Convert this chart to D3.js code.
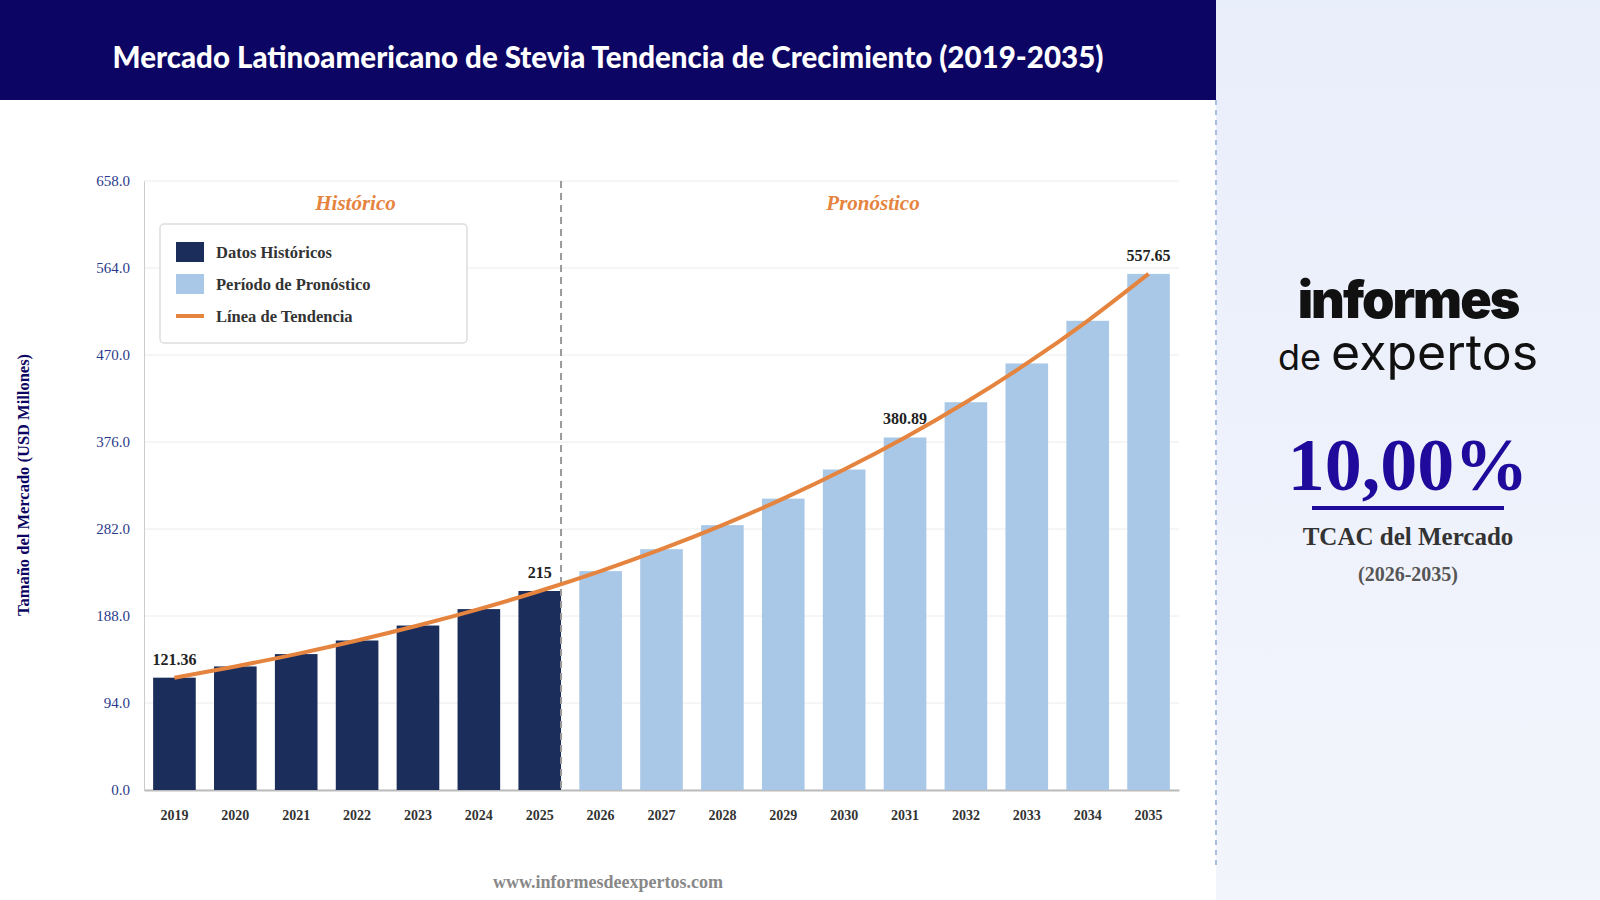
<!DOCTYPE html>
<html><head><meta charset="utf-8">
<script src="https://cdn.jsdelivr.net/npm/d3@7"></script>
<style>
body{margin:0;width:1600px;height:900px;overflow:hidden;background:#fff;font-family:"Liberation Serif",serif;}
</style></head><body>
<script>
var years = ['2019','2020','2021','2022','2023','2024','2025','2026','2027','2028','2029','2030','2031','2032','2033','2034','2035'];
var values = [121.36,133.5,146.85,161.53,177.69,195.45,215,236.5,260.15,286.17,314.78,346.26,380.89,418.98,460.87,506.96,557.65];
var historicalYears = ['2019','2020','2021','2022','2023','2024','2025'];
var labeledYears = ['2019','2025','2031','2035'];
var yTicks = [0,94,188,282,376,470,564,658];

var svg = d3.select('body').append('svg').attr('width',1600).attr('height',900);

// right panel
var grad = svg.append('defs').append('linearGradient').attr('id','pg').attr('x1',0).attr('y1',0).attr('x2',0).attr('y2',1);
grad.append('stop').attr('offset',0).attr('stop-color','#e9eefb');
grad.append('stop').attr('offset',1).attr('stop-color','#f3f5fc');
svg.append('rect').attr('x',1216).attr('y',0).attr('width',384).attr('height',900).attr('fill','url(#pg)');
svg.append('line').attr('x1',1216).attr('x2',1216).attr('y1',100).attr('y2',870)
    .attr('stroke','#a9bde0').attr('stroke-width',2).attr('stroke-dasharray','5,5');

// header
svg.append('rect').attr('x',0).attr('y',0).attr('width',1216).attr('height',100).attr('fill','#0c0563');
svg.append('text').attr('x',608).attr('y',68).attr('text-anchor','middle').attr('fill','#fff')
    .attr('font-family','Lato, sans-serif').attr('font-weight',900).attr('font-size',29.5)
    .text('Mercado Latinoamericano de Stevia Tendencia de Crecimiento (2019-2035)');

var L = 144, R = 1179, T = 181, B = 790;
var x = d3.scaleBand().domain(years).range([L,R]).paddingInner(0.3).paddingOuter(0.15);
var y = d3.scaleLinear().domain([0,658]).range([B,T]);

svg.append('g').selectAll('line').data(yTicks).enter().append('line')
    .attr('x1',L).attr('x2',R).attr('y1',function(d){return y(d);}).attr('y2',function(d){return y(d);})
    .attr('stroke','#ececec');

var yAxis = svg.append('g').attr('transform','translate('+L+',0)')
    .call(d3.axisLeft(y).tickValues(yTicks).tickFormat(d3.format('.1f')).tickSize(0).tickPadding(14));
yAxis.select('.domain').attr('stroke','#ccc');
yAxis.selectAll('text').attr('fill','#2a3a8a').attr('font-size',15).attr('font-family','Liberation Serif, serif');

var xAxis = svg.append('g').attr('transform','translate(0,'+B+')')
    .call(d3.axisBottom(x).tickSize(0).tickPadding(20));
xAxis.select('.domain').attr('stroke','#bbb').attr('stroke-width',2);
xAxis.selectAll('text').attr('fill','#333').attr('font-size',14).attr('font-weight','bold').attr('font-family','Liberation Serif, serif');

svg.append('text').attr('transform','translate(29,485) rotate(-90)').attr('text-anchor','middle')
    .attr('fill','#0c0563').attr('font-weight','bold').attr('font-size',16.5).text('Tamaño del Mercado (USD Millones)');

svg.append('g').selectAll('rect').data(years).enter().append('rect')
    .attr('x',function(d){return x(d);}).attr('width',x.bandwidth())
    .attr('y',function(d,i){return y(values[i]);}).attr('height',function(d,i){return B-y(values[i]);})
    .attr('fill',function(d){return historicalYears.indexOf(d)>=0 ? '#1b2d5b' : '#a9c8e8';});

// divider
var divX = x('2025')+x.bandwidth();
svg.append('line').attr('x1',divX).attr('x2',divX).attr('y1',T).attr('y2',B)
    .attr('stroke','#999').attr('stroke-width',2).attr('stroke-dasharray','7,5');
svg.append('text').attr('x',(L+divX)/2+3).attr('y',210).attr('text-anchor','middle').attr('fill','#e5843e')
    .attr('font-style','italic').attr('font-weight','bold').attr('font-size',21).text('Histórico');
svg.append('text').attr('x',(divX+R)/2+3).attr('y',210).attr('text-anchor','middle').attr('fill','#e5843e')
    .attr('font-style','italic').attr('font-weight','bold').attr('font-size',21).text('Pronóstico');

var line = d3.line().x(function(d){return x(d)+x.bandwidth()/2;}).y(function(d,i){return y(values[i]);}).curve(d3.curveMonotoneX);
svg.append('path').datum(years).attr('d',line).attr('fill','none').attr('stroke','#e5843e').attr('stroke-width',4);

svg.append('g').selectAll('text').data(labeledYears).enter().append('text')
    .attr('x',function(d){return x(d)+x.bandwidth()/2;})
    .attr('y',function(d){return y(values[years.indexOf(d)])-13;})
    .attr('text-anchor','middle').attr('font-weight','bold').attr('font-size',16).attr('fill','#222')
    .text(function(d){return values[years.indexOf(d)];});

// legend
var lg = svg.append('g').attr('transform','translate(160,224)');
lg.append('rect').attr('width',307).attr('height',119).attr('rx',4).attr('fill','#fff').attr('stroke','#ddd').attr('stroke-width',1.5);
var legendItems = [['Datos Históricos','#1b2d5b','box'],['Período de Pronóstico','#a9c8e8','box'],['Línea de Tendencia','#e5843e','line']];
legendItems.forEach(function(it,i){
    var cy = 28 + i*32;
    if (it[2]=='box') lg.append('rect').attr('x',16).attr('y',cy-10).attr('width',28).attr('height',20).attr('fill',it[1]);
    else lg.append('line').attr('x1',16).attr('x2',44).attr('y1',cy).attr('y2',cy).attr('stroke',it[1]).attr('stroke-width',4);
    lg.append('text').attr('x',56).attr('y',cy+6).attr('font-size',16.5).attr('font-weight','bold').attr('fill','#333').text(it[0]);
});

svg.append('text').attr('x',608).attr('y',888).attr('text-anchor','middle').attr('fill','#888')
    .attr('font-weight','bold').attr('font-size',18).text('www.informesdeexpertos.com');

// logo + CAGR
svg.append('text').attr('x',1408).attr('y',318).attr('text-anchor','middle').attr('font-family','Inter, sans-serif')
    .attr('font-weight',900).attr('font-size',52).attr('letter-spacing',-2).attr('fill','#111').text('informes');
var lt = svg.append('text').attr('x',1408).attr('y',370).attr('text-anchor','middle').attr('font-family','Inter, sans-serif').attr('fill','#111');
lt.append('tspan').attr('font-size',36).text('de ');
lt.append('tspan').attr('font-size',50).text('expertos');
svg.append('text').attr('x',1408).attr('y',490).attr('text-anchor','middle').attr('fill','#1f0a9c')
    .attr('font-weight','bold').attr('font-size',74).text('10,00%');
svg.append('rect').attr('x',1312).attr('y',506).attr('width',192).attr('height',4).attr('fill','#1f0a9c');
svg.append('text').attr('x',1408).attr('y',545).attr('text-anchor','middle').attr('fill','#333')
    .attr('font-weight','bold').attr('font-size',25).text('TCAC del Mercado');
svg.append('text').attr('x',1408).attr('y',581).attr('text-anchor','middle').attr('fill','#555')
    .attr('font-weight','bold').attr('font-size',20).text('(2026-2035)');
</script>
</body></html>
